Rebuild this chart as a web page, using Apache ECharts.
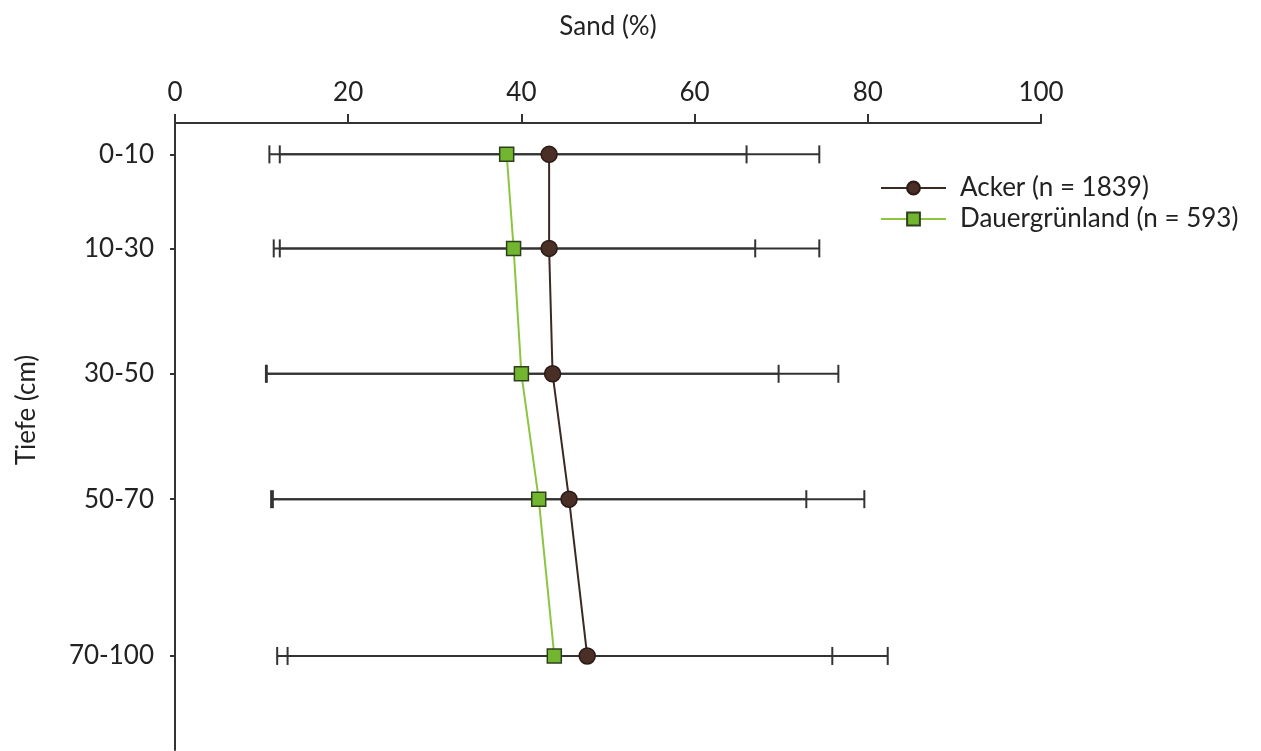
<!DOCTYPE html>
<html>
<head>
<meta charset="utf-8">
<script src="https://cdn.jsdelivr.net/npm/echarts@6/dist/echarts.min.js"></script>
<style>html,body{margin:0;padding:0;background:#fff;}#c{width:1261px;height:751px;}</style>
</head>
<body>
<div id="c"></div>
<script>
// Depth classes (labels) and their midpoint depths (cm)
const depthLabels = ['0-10', '10-30', '30-50', '50-70', '70-100'];
const depthMid = [5, 20, 40, 60, 85];
// Mean sand content (%)
const ackerMean = [43.2, 43.2, 43.6, 45.5, 47.6];
const gruenMean = [38.3, 39.1, 40.0, 42.0, 43.8];
// Range (error bars) — lower / upper
const ackerLow = [10.9, 11.4, 10.5, 11.1, 11.8];
const ackerHigh = [74.4, 74.4, 76.6, 79.6, 82.3];
const gruenLow = [12.1, 12.1, 10.6, 11.3, 13.0];
const gruenHigh = [66.0, 67.0, 69.7, 72.9, 75.9];
const xTicks = [0, 20, 40, 60, 80, 100];

const FONT = 'Lato';
const FS = 26;
const chart = echarts.init(document.getElementById('c'));

function errData(low, high) {
  return depthMid.map((d, i) => [low[i], high[i], d]);
}
function errRender(params, api) {
  const lo = api.coord([api.value(0), api.value(2)]);
  const hi = api.coord([api.value(1), api.value(2)]);
  const h = 9;
  const style = { stroke: '#333333', lineWidth: 2 };
  return {
    type: 'group',
    children: [
      { type: 'line', shape: { x1: lo[0], y1: lo[1], x2: hi[0], y2: hi[1] }, style: style },
      { type: 'line', shape: { x1: lo[0], y1: lo[1] - h, x2: lo[0], y2: lo[1] + h }, style: style },
      { type: 'line', shape: { x1: hi[0], y1: hi[1] - h, x2: hi[0], y2: hi[1] + h }, style: style }
    ]
  };
}

chart.setOption({
  animation: false,
  backgroundColor: '#ffffff',
  textStyle: { fontFamily: FONT },
  grid: { left: 175, right: 220, top: 123, bottom: 1, containLabel: false },
  legend: {
    data: ['Acker (n = 1839)', 'Dauergrünland (n = 593)'],
    orient: 'vertical',
    left: 875,
    top: 169,
    itemWidth: 65,
    itemHeight: 16,
    itemGap: 3,
    textStyle: { fontFamily: FONT, fontSize: FS, color: '#222', lineHeight: 28, padding: [0, 0, 0, 9] }
  },
  graphic: [
    { type: 'text', x: 608, y: 27, style: { text: 'Sand (%)', font: FS + 'px ' + FONT, fill: '#222', textAlign: 'center', textVerticalAlign: 'middle' } },
    { type: 'text', rotation: Math.PI / 2, x: 27, y: 410, style: { text: 'Tiefe (cm)', font: FS + 'px ' + FONT, fill: '#222', textAlign: 'center', textVerticalAlign: 'middle' } }
  ],
  xAxis: {
    type: 'value',
    position: 'top',
    min: 0, max: 100, interval: 20,
    axisLine: { show: true, lineStyle: { color: '#333', width: 2 } },
    axisTick: { show: true, length: 9, lineStyle: { color: '#333', width: 2 }, customValues: xTicks },
    axisLabel: { margin: 17, fontSize: FS, color: '#222', fontFamily: FONT, customValues: xTicks },
    splitLine: { show: false }
  },
  yAxis: {
    type: 'value',
    inverse: true,
    min: 0, max: 100,
    axisLine: { show: true, onZero: false, lineStyle: { color: '#333', width: 2 } },
    axisTick: { show: true, length: 5, lineStyle: { color: '#333', width: 2 }, customValues: depthMid },
    axisLabel: {
      margin: 21, fontSize: FS, color: '#222', fontFamily: FONT,
      customValues: depthMid,
      formatter: function (v) { const i = depthMid.indexOf(v); return i >= 0 ? depthLabels[i] : ''; }
    },
    splitLine: { show: false }
  },
  series: [
    { type: 'custom', name: 'errA', renderItem: errRender, data: errData(ackerLow, ackerHigh), encode: { x: [0, 1], y: 2 }, z: 1, silent: true },
    { type: 'custom', name: 'errG', renderItem: errRender, data: errData(gruenLow, gruenHigh), encode: { x: [0, 1], y: 2 }, z: 1, silent: true },
    {
      type: 'line', name: 'Acker (n = 1839)',
      data: depthMid.map((d, i) => [ackerMean[i], d]),
      symbol: 'circle', symbolSize: 16,
      lineStyle: { color: '#3b2a24', width: 2 },
      itemStyle: { color: '#4a2f27', borderColor: '#2a1a15', borderWidth: 1.5 },
      z: 3
    },
    {
      type: 'line', name: 'Dauergrünland (n = 593)',
      data: depthMid.map((d, i) => [gruenMean[i], d]),
      symbol: 'rect', symbolSize: 14,
      lineStyle: { color: '#8cc63f', width: 2 },
      itemStyle: { color: '#72b52e', borderColor: '#2e3f1c', borderWidth: 1.5 },
      z: 4
    }
  ]
});
</script>
</body>
</html>
